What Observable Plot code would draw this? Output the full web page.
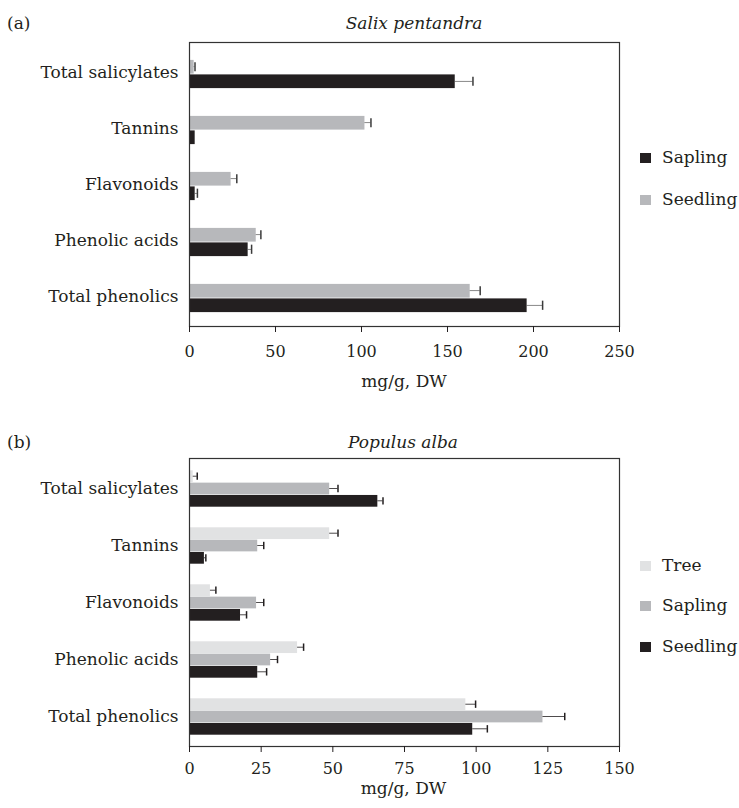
<!DOCTYPE html>
<html><head><meta charset="utf-8">
<script src="https://cdn.jsdelivr.net/npm/d3@7"></script>
<script src="https://cdn.jsdelivr.net/npm/@observablehq/plot@0.6"></script>
<style>
body{margin:0;background:#fff;}
#root{position:relative;width:739px;height:808px;font-family:"DejaVu Serif",serif;color:#231f20;overflow:hidden;}
.abs{position:absolute;white-space:nowrap;line-height:1;}
.sq{position:absolute;width:11px;height:10px;}
svg{position:absolute;left:0;}
</style></head><body><div id="root"></div>
<script>
// ---- data ----
const categories = ["Total salicylates", "Tannins", "Flavonoids", "Phenolic acids", "Total phenolics"];

// Panel (a) Salix pentandra
const seedlingA = [2.7, 102, 24.2, 38.8, 163.2];
const seedlingErrA = [0.5, 3.5, 3.3, 2.7, 5.8];
const saplingA = [154.5, 3.3, 3.3, 34.1, 196.3];
const saplingErrA = [10.3, 0, 1.3, 2.0, 9.0];
const ticksA = [0, 50, 100, 150, 200, 250];

// Panel (b) Populus alba
const treeB = [1.3, 48.9, 7.3, 37.7, 96.4];
const treeErrB = [1.4, 2.9, 1.9, 2.1, 3.4];
const saplingB = [48.9, 23.8, 23.4, 28.3, 123.3];
const saplingErrB = [2.9, 2.1, 2.5, 2.4, 7.6];
const seedlingB = [65.7, 5.2, 17.8, 23.8, 98.8];
const seedlingErrB = [1.8, 0.5, 2.1, 3.1, 5.1];
const ticksB = [0, 25, 50, 75, 100, 125, 150];

const BLACK = "#231f20", GRAY = "#b7b8bb", LIGHT = "#e1e2e3";
const root = document.getElementById("root");

function panel(o) {
  const bw = (o.height - o.marginTop - o.marginBottom) / categories.length;
  const n = o.series.length;
  const h = o.groupH / n;
  const marks = [];
  o.series.forEach((s, i) => {
    const data = categories.map((c, j) => ({category: c, value: s.values[j], err: s.errs[j]}));
    const top = (bw - o.groupH) / 2 + o.shift + i * h;
    const bottom = bw - top - h;
    marks.push(Plot.barX(data, {y: "category", x1: 0, x2: "value", fill: s.color, insetTop: top, insetBottom: bottom}));
    const ed = data.filter(d => d.err > 0);
    const c = top + h / 2;
    marks.push(Plot.barX(ed, {y: "category", x1: "value", x2: d => d.value + d.err, fill: o.errColor,
      insetTop: c - 0.7, insetBottom: bw - c - 0.7}));
    marks.push(Plot.tickX(ed, {y: "category", x: d => d.value + d.err, stroke: o.errColor, strokeWidth: 1.5,
      insetTop: c - o.capH / 2, insetBottom: bw - c - o.capH / 2}));
  });
  marks.push(Plot.frame({stroke: "#333", strokeWidth: 1.2}));
  marks.push(Plot.axisX({ticks: o.ticks, tickFormat: d => String(d), tickSize: 6, tickPadding: o.tickPadding,
    fontSize: 16, label: null, stroke: BLACK}));
  marks.push(Plot.axisY({tickSize: 0, tickPadding: 11, fontSize: 17, label: null}));
  const svg = Plot.plot({
    width: 739, height: o.height,
    marginLeft: 189, marginRight: 120, marginTop: o.marginTop, marginBottom: o.marginBottom,
    style: {fontFamily: '"DejaVu Serif", serif', color: BLACK, background: "transparent", overflow: "visible"},
    x: {domain: [0, o.max], range: [189, 739 - 120]},
    y: {type: "band", domain: categories, padding: 0},
    marks
  });
  svg.style.top = o.top + "px";
  root.appendChild(svg);
}

function text(str, x, baseline, fs, opts = {}) {
  const d = document.createElement("div");
  d.className = "abs";
  d.textContent = str;
  d.style.fontSize = fs + "px";
  d.style.top = (baseline - 0.846 * fs) + "px";
  d.style.left = x + "px";
  if (opts.center) d.style.transform = "translateX(-50%)";
  if (opts.italic) d.style.fontStyle = "italic";
  root.appendChild(d);
}
function square(color, x, y) {
  const d = document.createElement("div");
  d.className = "sq";
  d.style.background = color;
  d.style.left = x + "px";
  d.style.top = y + "px";
  root.appendChild(d);
}

// Panel (a)
panel({top: 0, height: 400, marginTop: 42, marginBottom: 74, max: 250, ticks: ticksA, tickPadding: 13,
  groupH: 29, shift: 2, capH: 10, errColor: "#3a3a3a",
  series: [
    {name: "Seedling", values: seedlingA, errs: seedlingErrA, color: GRAY},
    {name: "Sapling", values: saplingA, errs: saplingErrA, color: BLACK}
  ]});
text("(a)", 7, 29, 17);
text("Salix pentandra", 414, 29, 17, {center: true, italic: true});
text("mg/g, DW", 404, 387, 17, {center: true});
square(BLACK, 640, 153); text("Sapling", 662, 163, 17);
square(GRAY, 640, 195); text("Seedling", 662, 205, 17);

// Panel (b)
panel({top: 400, height: 408, marginTop: 58, marginBottom: 62, max: 150, ticks: ticksB, tickPadding: 10,
  groupH: 37, shift: 0, capH: 8, errColor: BLACK,
  series: [
    {name: "Tree", values: treeB, errs: treeErrB, color: LIGHT},
    {name: "Sapling", values: saplingB, errs: saplingErrB, color: GRAY},
    {name: "Seedling", values: seedlingB, errs: seedlingErrB, color: BLACK}
  ]});
text("(b)", 7, 448, 17);
text("Populus alba", 403, 448, 17, {center: true, italic: true});
text("mg/g, DW", 403.5, 794, 17, {center: true});
square(LIGHT, 640, 561); text("Tree", 662, 571, 17);
square(GRAY, 640, 601); text("Sapling", 662, 611, 17);
square(BLACK, 640, 642); text("Seedling", 662, 652, 17);
</script>
</body></html>
